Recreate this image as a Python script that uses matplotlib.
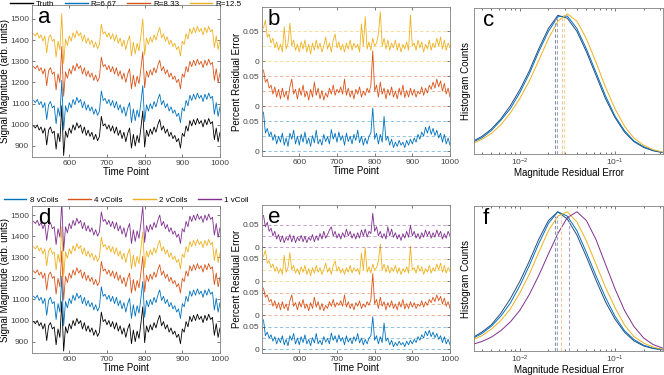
import numpy as np
import matplotlib
matplotlib.use('Agg')
import matplotlib.pyplot as plt

plt.rcParams['font.family'] = ['Liberation Sans', 'DejaVu Sans']

# MATLAB default colours
C_BLUE = '#0072BD'
C_RED = '#D95319'
C_YEL = '#EDB120'
C_PUR = '#7E2F8E'

# time axis (every 5th time point)
time_pts = np.arange(505, 1001, 5)

truth = [
    995, 985, 1000, 975, 990, 960, 985, 905, 975, 990,
    960, 970, 885, 960, 920, 1090, 855, 970, 940, 985,
    960, 1000, 975, 1010, 985, 1000, 960, 990, 950, 975,
    945, 965, 930, 955, 925, 945, 1040, 995, 1005, 980,
    1000, 970, 995, 960, 990, 950, 975, 935, 965, 920,
    960, 985, 890, 955, 900, 950, 915, 985, 1065, 895,
    975, 945, 980, 955, 990, 965, 1000, 1025, 975, 995,
    960, 980, 945, 965, 935, 950, 920, 935, 890, 960,
    945, 995, 970, 1020, 995, 1025, 1000, 1030, 1005, 1020,
    990, 1025, 1000, 1030, 1005, 1015, 930, 985, 920, 965,
]

# residual errors
res_blue = [
    0.065, 0.030, 0.038, 0.025, 0.032, 0.018, 0.028, 0.012, 0.025, 0.015,
    0.030, 0.010, 0.022, 0.008, 0.030, 0.020, 0.035, 0.012, 0.025, 0.010,
    0.028, 0.015, 0.032, 0.012, 0.022, 0.008, 0.026, 0.014, 0.035, 0.012,
    0.020, 0.010, 0.028, 0.016, 0.024, 0.012, 0.036, 0.020, 0.030, 0.015,
    0.032, 0.018, 0.026, 0.010, 0.030, 0.016, 0.025, 0.012, 0.028, 0.018,
    0.035, 0.014, 0.025, 0.010, 0.022, 0.012, 0.025, 0.030, 0.072, 0.020,
    0.030, 0.012, 0.028, 0.015, 0.058, 0.018, 0.025, 0.010, 0.020, 0.006,
    0.015, 0.008, 0.018, 0.010, 0.015, 0.006, 0.018, 0.010, 0.020, 0.012,
    0.022, 0.015, 0.028, 0.020, 0.032, 0.025, 0.040, 0.030, 0.042, 0.028,
    0.038, 0.026, 0.035, 0.022, 0.030, 0.015, 0.028, 0.012, 0.022, 0.010,
]
res_red = [
    0.060, 0.040, 0.045, 0.030, 0.035, 0.020, 0.032, 0.015, 0.028, 0.012,
    0.030, 0.015, 0.025, 0.010, 0.032, 0.045, 0.020, 0.028, 0.012, 0.030,
    0.018, 0.035, 0.015, 0.025, 0.010, 0.028, 0.015, 0.040, 0.018, 0.030,
    0.012, 0.026, 0.010, 0.022, 0.015, 0.030, 0.020, 0.035, 0.018, 0.028,
    0.022, 0.032, 0.020, 0.045, 0.018, 0.030, 0.015, 0.026, 0.012, 0.028,
    0.020, 0.032, 0.015, 0.025, 0.018, 0.030, 0.022, 0.035, 0.092, 0.025,
    0.035, 0.015, 0.040, 0.020, 0.030, 0.012, 0.028, 0.018, 0.032, 0.015,
    0.025, 0.012, 0.030, 0.018, 0.035, 0.014, 0.026, 0.015, 0.030, 0.018,
    0.028, 0.015, 0.025, 0.020, 0.032, 0.018, 0.030, 0.022, 0.035, 0.028,
    0.040, 0.030, 0.045, 0.032, 0.042, 0.025, 0.038, 0.020, 0.030, 0.015,
]
res_yel = [
    0.055, 0.068, 0.040, 0.045, 0.030, 0.038, 0.022, 0.032, 0.018, 0.028,
    0.015, 0.057, 0.020, 0.030, 0.063, 0.025, 0.035, 0.018, 0.028, 0.015,
    0.032, 0.020, 0.035, 0.015, 0.028, 0.012, 0.030, 0.018, 0.035, 0.020,
    0.030, 0.015, 0.025, 0.040, 0.020, 0.030, 0.015, 0.035, 0.045, 0.022,
    0.032, 0.018, 0.028, 0.015, 0.030, 0.020, 0.035, 0.018, 0.030, 0.022,
    0.028, 0.015, 0.062, 0.025, 0.074, 0.020, 0.032, 0.018, 0.038, 0.025,
    0.030, 0.045, 0.082, 0.025, 0.038, 0.020, 0.035, 0.018, 0.030, 0.022,
    0.035, 0.018, 0.030, 0.015, 0.028, 0.020, 0.032, 0.018, 0.077, 0.025,
    0.030, 0.018, 0.035, 0.022, 0.032, 0.015, 0.028, 0.020, 0.035, 0.018,
    0.030, 0.022, 0.038, 0.025, 0.040, 0.020, 0.035, 0.018, 0.030, 0.022,
]
res_pur = [
    0.070, 0.045, 0.055, 0.035, 0.042, 0.025, 0.035, 0.018, 0.028, 0.012,
    0.025, 0.010, 0.022, 0.015, 0.028, 0.012, 0.025, 0.010, 0.022, 0.014,
    0.026, 0.012, 0.024, 0.010, 0.022, 0.015, 0.028, 0.012, 0.025, 0.015,
    0.030, 0.018, 0.035, 0.020, 0.028, 0.038, 0.045, 0.025, 0.035, 0.020,
    0.030, 0.018, 0.032, 0.022, 0.040, 0.025, 0.035, 0.020, 0.030, 0.018,
    0.032, 0.020, 0.038, 0.025, 0.040, 0.022, 0.035, 0.030, 0.075, 0.035,
    0.045, 0.025, 0.035, 0.020, 0.030, 0.018, 0.045, 0.025, 0.040, 0.022,
    0.032, 0.018, 0.028, 0.015, 0.030, 0.020, 0.035, 0.022, 0.048, 0.025,
    0.035, 0.020, 0.030, 0.018, 0.032, 0.022, 0.038, 0.025, 0.035, 0.020,
    0.032, 0.022, 0.038, 0.025, 0.035, 0.018, 0.030, 0.020, 0.035, 0.025,
]

# histogram curves (normalised counts), sampled on a log grid
hist_x = [0.00316, 0.00398, 0.00501, 0.00631, 0.00794, 0.01, 0.0126, 0.0158,
          0.02, 0.0251, 0.0316, 0.0398, 0.0501, 0.0631, 0.0794, 0.1, 0.126,
          0.158, 0.2, 0.251, 0.316]
hc_blue = [0.085, 0.12, 0.17, 0.24, 0.33, 0.44, 0.57, 0.72, 0.86, 0.95, 0.93,
           0.84, 0.70, 0.54, 0.38, 0.25, 0.15, 0.085, 0.045, 0.022, 0.010]
hc_red = [0.08, 0.11, 0.16, 0.23, 0.31, 0.42, 0.55, 0.70, 0.84, 0.94, 0.945,
          0.86, 0.72, 0.56, 0.40, 0.26, 0.16, 0.09, 0.05, 0.025, 0.011]
hc_yel = [0.07, 0.10, 0.14, 0.20, 0.28, 0.38, 0.50, 0.64, 0.79, 0.91, 0.96,
          0.91, 0.79, 0.63, 0.46, 0.31, 0.19, 0.11, 0.06, 0.03, 0.014]
hf_blue = [0.09, 0.13, 0.18, 0.26, 0.36, 0.48, 0.62, 0.77, 0.90, 0.96, 0.91,
           0.80, 0.65, 0.49, 0.34, 0.22, 0.13, 0.07, 0.035, 0.017, 0.008]
hf_red = [0.085, 0.12, 0.17, 0.24, 0.33, 0.45, 0.59, 0.74, 0.88, 0.96, 0.93,
          0.83, 0.68, 0.52, 0.37, 0.24, 0.14, 0.08, 0.04, 0.02, 0.009]
hf_yel = [0.075, 0.105, 0.15, 0.21, 0.29, 0.40, 0.53, 0.68, 0.83, 0.93, 0.96,
          0.89, 0.76, 0.60, 0.44, 0.30, 0.18, 0.10, 0.055, 0.027, 0.012]
hf_pur = [0.045, 0.065, 0.095, 0.14, 0.20, 0.28, 0.39, 0.52, 0.67, 0.81, 0.92,
          0.96, 0.90, 0.77, 0.60, 0.43, 0.28, 0.17, 0.09, 0.045, 0.02]

# median residual per curve
med_c = [0.0236, 0.0249, 0.0277, 0.0290]
med_f = [0.0236, 0.0249, 0.0268, 0.0326]

labels_a = ['Truth', 'R=6.67', 'R=8.33', 'R=12.5']
labels_d = ['8 vCoils', '4 vCoils', '2 vCoils', '1 vCoil']

# display offsets for stacked traces
offs_a = [0, 120, 280, 435]
offs_d = [0, 120, 240, 355, 475]
band = 0.075

fig = plt.figure(figsize=(6.64, 3.75), dpi=100)
W, H = 664, 375
LBL = 7
TCK = 6


def box(l, r, t, b):
    return fig.add_axes([l / W, 1 - b / H, (r - l) / W, (b - t) / H])


def style(ax):
    ax.tick_params(direction='in', top=True, right=True, length=2.5,
                   width=0.5, labelsize=TCK, pad=2, colors='#444444')
    ax.tick_params(which='minor', direction='in', top=True, length=1.5, width=0.4)
    for s in ax.spines.values():
        s.set_color('#808080')
        s.set_linewidth(0.6)


def panel_letter(ax, s, x=0.03):
    ax.text(x, 0.985, s, transform=ax.transAxes, fontsize=16, va='top', ha='left')


def top_legend(ax, y):
    leg = ax.legend(loc='center', bbox_to_anchor=(0.5, y), ncol=4, frameon=False,
                    fontsize=5.8, handlelength=2.8, columnspacing=1.3,
                    handletextpad=0.4, borderpad=0)
    for ln in leg.get_lines():
        ln.set_linewidth(1.0)


ax_a = box(32, 220, 5, 157)
ax_b = box(262, 450, 7, 156)
ax_c = box(474, 663, 8, 154)
ax_d = box(32, 220, 206, 353)
ax_e = box(262, 450, 205, 353)
ax_f = box(474, 663, 206, 351)

truth = np.array(truth)

# a: signal traces
cols_a = ['black', C_BLUE, C_RED, C_YEL]
for lab, c, o in zip(labels_a, cols_a, offs_a):
    ax_a.plot(time_pts, truth + o, color=c, lw=0.6, label=lab)
ax_a.set_xlim(501, 1000)
ax_a.set_ylim(848, 1566)
top_legend(ax_a, 1.005)

# d: signal traces
cols_d = ['black', C_BLUE, C_RED, C_YEL, C_PUR]
for i, (c, o) in enumerate(zip(cols_d, offs_d)):
    ax_d.plot(time_pts, truth + o, color=c, lw=0.6,
              label=labels_d[i - 1] if i > 0 else None)
ax_d.set_xlim(501, 1000)
ax_d.set_ylim(846, 1543)
top_legend(ax_d, 1.04)

for ax in (ax_a, ax_d):
    ax.set_yticks(range(900, 1501, 100))
    ax.set_xticks(range(600, 1001, 100))
    ax.set_xlabel('Time Point', fontsize=LBL, labelpad=0)
    ax.set_ylabel('Signal Magnitude (arb. units)', fontsize=LBL, labelpad=0.5)
    style(ax)


# b / e: stacked residual errors
def residual_panel(ax, series, cols, top):
    ticks = []
    for k, (r, c) in enumerate(zip(series, cols)):
        base = k * band
        for lv in (0, 0.025, 0.05):
            ax.axhline(base + lv, color=c, lw=0.6, ls=(0, (4, 3)), alpha=0.5)
        ax.plot(time_pts, np.array(r) + base, color=c, lw=0.6)
        ticks += [base, base + 0.05]
    ax.set_yticks(ticks)
    ax.set_yticklabels(['0', '0.05'] * len(series))
    ax.set_xlim(501, 1000)
    ax.set_ylim(-0.008, top)
    ax.set_xticks(range(600, 1001, 100))
    ax.set_xlabel('Time Point', fontsize=LBL, labelpad=0)
    ax.set_ylabel('Percent Residual Error', fontsize=LBL, labelpad=0.5)
    style(ax)


residual_panel(ax_b, [res_blue, res_red, res_yel], [C_BLUE, C_RED, C_YEL], 0.24)
residual_panel(ax_e, [res_blue, res_red, res_yel, res_pur],
               [C_BLUE, C_RED, C_YEL, C_PUR], 0.318)


# c / f: residual histograms
def hist_panel(ax, curves, cols, meds, dcols):
    for h, c in zip(curves, cols):
        ax.plot(hist_x, h, color=c, lw=0.7)
    for m, c in zip(meds, dcols):
        ax.axvline(m, ymax=0.93, color=c, lw=0.8, ls=(0, (3, 2)))
    ax.set_xscale('log')
    ax.set_xlim(0.0033, 0.32)
    ax.set_ylim(0, 1.0)
    ax.set_yticks([])
    ax.set_xlabel('Magnitude Residual Error', fontsize=LBL, labelpad=0)
    ax.set_ylabel('Histogram Counts', fontsize=LBL, labelpad=2)
    style(ax)


hist_panel(ax_c, [hc_blue, hc_red, hc_yel], ['#2A4B7C', C_BLUE, C_YEL], med_c,
           ['#8090A8', '#A0A8C0', '#F0C8A0', '#F5D890'])
hist_panel(ax_f, [hf_blue, hf_red, hf_yel, hf_pur], ['#2A4B7C', C_BLUE, C_YEL, C_PUR], med_f,
           ['#8090A8', '#A0A8C0', '#F0C8A0', '#A8A0C0'])

for ax, s in zip((ax_a, ax_b, ax_d, ax_e), 'abde'):
    panel_letter(ax, s)
panel_letter(ax_c, 'c', 0.045)
panel_letter(ax_f, 'f', 0.045)

fig.savefig('out.png', dpi=100)
